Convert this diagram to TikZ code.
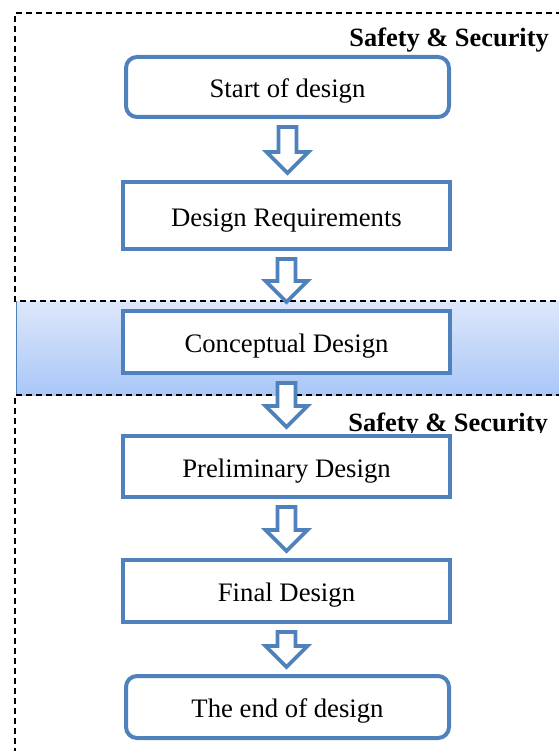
\documentclass[tikz,border=0pt]{standalone}
\usepackage{fontspec}
\setmainfont{Liberation Serif}
\usetikzlibrary{calc}
\definecolor{flowblue}{HTML}{4F81BD}
\definecolor{bandtop}{HTML}{DDE7FB}
\definecolor{bandbot}{HTML}{A9C7F7}
\tikzset{
  stagebox/.style={draw=flowblue, line width=4pt, fill=white, minimum width=327pt,
    minimum height=62pt, inner sep=0pt, text height=21pt, text depth=-2pt,
    font=\fontsize{26.7}{30}\selectfont},
  endbox/.style={stagebox, rounded corners=11pt, minimum width=323pt},
  arrowline/.style={draw=flowblue, line width=3.6pt, fill=white, line join=miter},
  zoneframe/.style={draw=black, line width=1.5pt, dash pattern=on 6pt off 4pt},
  zonelabel/.style={font=\fontsize{26.4}{28}\selectfont\bfseries, anchor=base east, inner sep=0pt}
}
% hollow block arrow from the bottom of one box to the top of the next
\newcommand\flowarrow[2]{%
  \path[arrowline] let \p1=(#1.south), \p2=(#2.north) in
    (\x1-9pt,\y1-8pt) -- (\x1+9pt,\y1-8pt) -- (\x1+9pt,\y2+28pt) -- (\x1+21pt,\y2+28pt)
    -- (\x1,\y2+7pt) -- (\x1-21pt,\y2+28pt) -- (\x1-9pt,\y2+28pt) -- cycle;}
\begin{document}
\begin{tikzpicture}[x=1pt,y=1pt]
\useasboundingbox (0,0) rectangle (558,-751);
% shaded conceptual-design band
\shade[top color=bandtop, bottom color=bandbot] (16,-301) rectangle (560,-395);
\draw[flowblue, line width=1.5pt] (16.5,-301) -- (16.5,-395);
% dashed safety & security zones
\draw[zoneframe] (562,-13) -- (15,-13) -- (15,-301) -- (562,-301);
\draw[zoneframe] (562,-395) -- (15,-395) -- (15,-755);
% stages
\node[endbox]   (start) at (287.5,-87)   [minimum height=60pt] {Start of design};
\node[stagebox] (req)   at (286.5,-215.5) [minimum height=67pt] {Design Requirements};
\node[stagebox] (conc)  at (286.5,-342)  {Conceptual Design};
\node[stagebox] (prel)  at (286.5,-466.5) [minimum height=61pt] {Preliminary Design};
\node[stagebox] (final) at (286.5,-591)  {Final Design};
\node[endbox]   (end)   at (287.5,-707)  {The end of design};
% zone labels
\node[zonelabel] (zone1) at (549,-47) {Safety \& Security};
\begin{scope}
  \clip (300,-400) rectangle (558,-432);
  \node[zonelabel] (zone2) at (548,-431) {Safety \& Security};
\end{scope}
% flow arrows
\flowarrow{start}{req}
\flowarrow{req}{conc}
\flowarrow{conc}{prel}
\flowarrow{prel}{final}
\flowarrow{final}{end}
\end{tikzpicture}
\end{document}
